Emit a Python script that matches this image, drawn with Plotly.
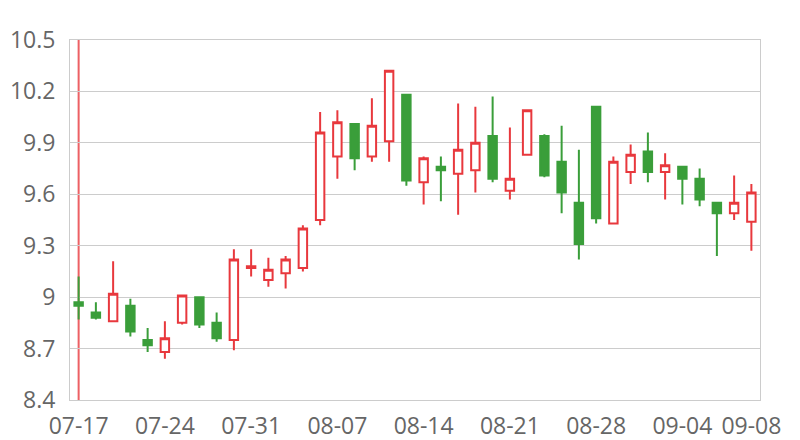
import plotly.graph_objects as go

dates = ["07-17", "07-18", "07-19", "07-20", "07-21",
         "07-24", "07-25", "07-26", "07-27", "07-28",
         "07-31", "08-01", "08-02", "08-03", "08-04",
         "08-07", "08-08", "08-09", "08-10", "08-11",
         "08-14", "08-15", "08-16", "08-17", "08-18",
         "08-21", "08-22", "08-23", "08-24", "08-25",
         "08-28", "08-29", "08-30", "08-31", "09-01",
         "09-04", "09-05", "09-06", "09-07", "09-08"]

open_ = [8.97, 8.91, 8.86, 8.95, 8.75, 8.68, 8.85, 9.00, 8.85, 8.75,
         9.17, 9.10, 9.14, 9.17, 9.45, 9.82, 10.01, 9.82, 9.91, 10.18,
         9.67, 9.76, 9.72, 9.74, 9.94, 9.62, 9.83, 9.94, 9.79, 9.55,
         10.11, 9.43, 9.73, 9.85, 9.73, 9.76, 9.69, 9.55, 9.49, 9.44]
close = [8.95, 8.88, 9.02, 8.80, 8.72, 8.76, 9.01, 8.84, 8.76, 9.22,
         9.18, 9.16, 9.22, 9.40, 9.96, 10.02, 9.81, 10.00, 10.32, 9.68,
         9.81, 9.74, 9.86, 9.90, 9.69, 9.69, 10.09, 9.71, 9.61, 9.31,
         9.46, 9.79, 9.83, 9.73, 9.77, 9.69, 9.57, 9.49, 9.55, 9.61]
high = [9.12, 8.97, 9.21, 8.99, 8.82, 8.86, 9.01, 9.00, 8.91, 9.28,
        9.28, 9.23, 9.24, 9.42, 10.08, 10.09, 10.01, 10.16, 10.32, 10.18,
        9.82, 9.82, 10.13, 10.11, 10.17, 9.99, 10.09, 9.95, 10.00, 9.86,
        10.11, 9.82, 9.89, 9.96, 9.84, 9.76, 9.75, 9.55, 9.71, 9.66]
low = [8.87, 8.87, 8.86, 8.77, 8.68, 8.64, 8.84, 8.82, 8.74, 8.69,
       9.12, 9.06, 9.05, 9.15, 9.42, 9.69, 9.74, 9.79, 9.79, 9.65,
       9.54, 9.56, 9.48, 9.61, 9.67, 9.57, 9.83, 9.70, 9.49, 9.22,
       9.43, 9.43, 9.66, 9.67, 9.57, 9.54, 9.53, 9.24, 9.45, 9.27]

tick_labels = dates[::5] + [dates[-1]]
y_ticks = [8.4, 8.7, 9.0, 9.3, 9.6, 9.9, 10.2, 10.5]

RED = "#e8383d"
GREEN = "#3a9e3a"

fig = go.Figure()
fig.add_trace(go.Candlestick(
    x=dates, open=open_, high=high, low=low, close=close,
    increasing=dict(line=dict(color=RED, width=2), fillcolor="#ffffff"),
    decreasing=dict(line=dict(color=GREEN, width=2), fillcolor=GREEN),
    whiskerwidth=0,
    showlegend=False,
    hoverinfo="x+y",
))

fig.add_shape(type="line", xref="x", yref="paper",
              x0=dates[0], x1=dates[0], y0=0, y1=1,
              line=dict(color="rgba(232,56,61,0.8)", width=2), layer="below")

# page body has an 8px margin, so margins are offset to keep the plot area at 70..760 x 40..400
fig.update_layout(
    width=800, height=440,
    margin=dict(l=62, r=48, t=32, b=48),
    plot_bgcolor="#ffffff", paper_bgcolor="#ffffff",
    font=dict(family="Open Sans", size=23, color="#666666"),
    showlegend=False,
)
fig.update_xaxes(
    type="category", categoryorder="array", categoryarray=dates,
    range=[-0.5, len(dates) - 0.5], automargin=False,
    tickmode="array", tickvals=tick_labels, ticktext=tick_labels,
    showgrid=False, showline=True, linecolor="#cccccc", linewidth=1, mirror=True,
    rangeslider=dict(visible=False), ticks="", ticklabelstandoff=5,
    tickfont=dict(size=23, color="#666666"),
)
fig.update_yaxes(
    range=[8.4, 10.5], tickmode="array", tickvals=y_ticks,
    ticktext=[("%g" % v) for v in y_ticks], automargin=False,
    showgrid=True, gridcolor="#cccccc", gridwidth=1,
    showline=True, linecolor="#cccccc", linewidth=1, mirror=True,
    zeroline=False, ticks="", ticklabelstandoff=9,
    tickfont=dict(size=23, color="#666666"),
)

fig.write_html("out.html")
